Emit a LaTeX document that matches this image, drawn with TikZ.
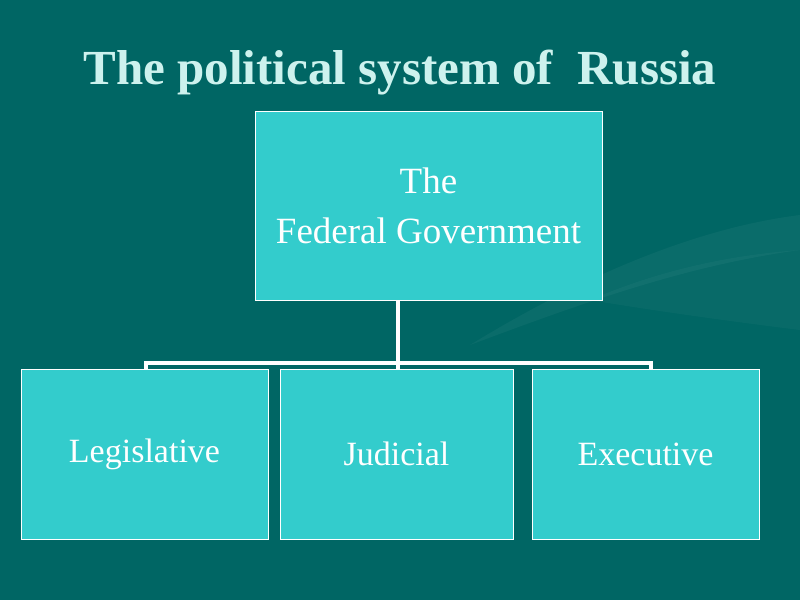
\documentclass[tikz,border=0pt]{standalone}
\usepackage{fontspec}
\setmainfont{Liberation Serif}
\definecolor{slidebg}{RGB}{0,102,100}
\definecolor{boxfill}{RGB}{51,204,204}
\definecolor{titlecol}{RGB}{205,242,238}
\tikzset{
  branch/.style={draw=white,line width=0.8pt,fill=boxfill,text=white,
    minimum height=170pt,inner sep=0pt,font=\fontsize{34}{40}\selectfont},
  conn/.style={draw=white,line width=4pt},
}
\begin{document}
\begin{tikzpicture}[x=1pt,y=-1pt]
        %% Background
        \fill[slidebg] (0,0) rectangle (800,600);
        \useasboundingbox (0,0) rectangle (800,600);
        \fill[white,opacity=0.04] (470,345) .. controls (560,290) and (680,230) .. (800,215)
            -- (800,250) .. controls (690,265) and (590,300) .. (470,345) -- cycle;
        \fill[white,opacity=0.03] (590,300) .. controls (660,270) and (730,255) .. (800,250)
            -- (800,330) .. controls (720,320) and (650,310) .. (590,300) -- cycle;
        %% Title
        \node[text=titlecol,font=\bfseries\fontsize{49}{54}\selectfont] (title) at (400,73) {The political system of\ \ Russia};
        %% Boxes
        \node[branch,minimum width=347pt,minimum height=189pt,align=center,font=\fontsize{37}{50}\selectfont] (gov) at (428.5,205.5) {The\\Federal Government};
        \node[branch,minimum width=247pt] (leg) at (144.5,454) {Legislative};
        \node[branch,minimum width=233pt] (jud) at (396.5,454) {Judicial};
        \node[branch,minimum width=227pt] (exe) at (645.5,454) {Executive};
        %% Connectors
        \coordinate (lt) at (146,369);
        \coordinate (rt) at (651,369);
        \draw[conn] (lt) -- ++(0,-6) -| (rt);
        \draw[conn] (gov.south -| 398,0) -- (398,369);
\end{tikzpicture}
\end{document}
